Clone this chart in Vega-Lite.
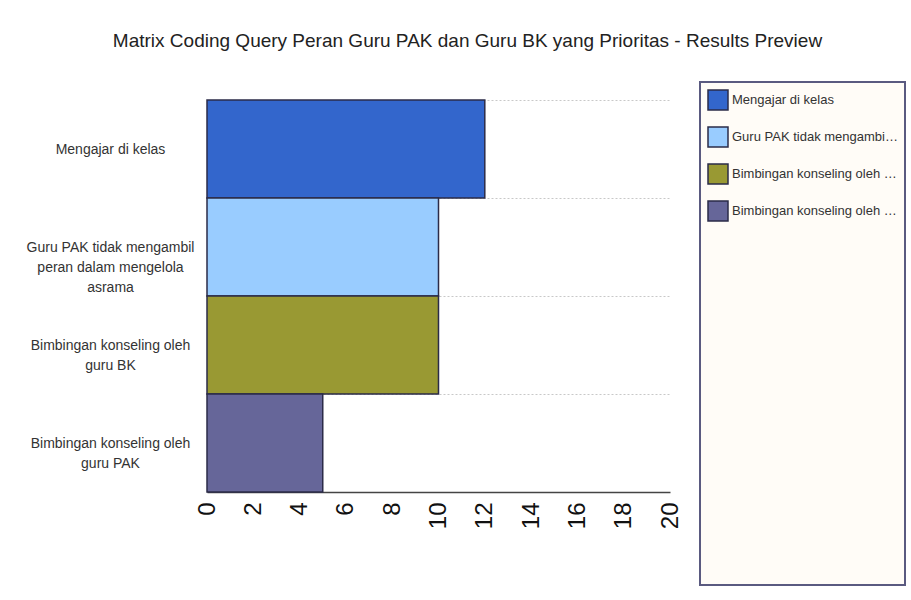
{
  "$schema": "https://vega.github.io/schema/vega-lite/v6.json",
  "autosize": {"type": "none"},
  "padding": {"left": 207, "top": 100, "right": 241, "bottom": 108},
  "width": 463,
  "height": 392,
  "background": "white",
  "title": {
    "text": "Matrix Coding Query Peran Guru PAK dan Guru BK yang Prioritas - Results Preview",
    "font": "Liberation Sans, sans-serif",
    "fontSize": 19,
    "fontWeight": "normal",
    "color": "#222222",
    "anchor": "middle",
    "dx": 29,
    "offset": 30
  },
  "data": {
    "values": [
      {"kategori": "Mengajar di kelas", "nilai": 12},
      {"kategori": "Guru PAK tidak mengambil peran dalam mengelola asrama", "nilai": 10},
      {"kategori": "Bimbingan konseling oleh guru BK", "nilai": 10},
      {"kategori": "Bimbingan konseling oleh guru PAK", "nilai": 5}
    ]
  },
  "mark": {"type": "bar", "stroke": "#2b2b48", "strokeWidth": 1.5},
  "encoding": {
    "y": {
      "field": "kategori",
      "type": "nominal",
      "sort": null,
      "scale": {"paddingInner": 0, "paddingOuter": 0},
      "axis": {
        "title": null,
        "domain": false,
        "ticks": false,
        "tickBand": "extent",
        "grid": true,
        "gridColor": "#c8c8c8",
        "gridDash": [2, 2],
        "gridWidth": 1,
        "labelAlign": "center",
        "labelBaseline": "middle",
        "labelPadding": 97,
        "labelFont": "Liberation Sans, sans-serif",
        "labelFontSize": 14,
        "labelLineHeight": 20,
        "labelColor": "#333333",
        "labelLimit": 250,
        "labelExpr": "datum.label === 'Guru PAK tidak mengambil peran dalam mengelola asrama' ? ['Guru PAK tidak mengambil', 'peran dalam mengelola', 'asrama'] : datum.label === 'Bimbingan konseling oleh guru BK' ? ['Bimbingan konseling oleh', 'guru BK'] : datum.label === 'Bimbingan konseling oleh guru PAK' ? ['Bimbingan konseling oleh', 'guru PAK'] : datum.label"
      }
    },
    "x": {
      "field": "nilai",
      "type": "quantitative",
      "scale": {"domain": [0, 20], "nice": false},
      "axis": {
        "title": null,
        "values": [0, 2, 4, 6, 8, 10, 12, 14, 16, 18, 20],
        "grid": false,
        "ticks": false,
        "domainColor": "#444444",
        "domainWidth": 1.5,
        "labelAngle": -90,
        "labelPadding": 10,
        "labelFont": "Liberation Sans, sans-serif",
        "labelFontSize": 24,
        "labelColor": "#111111"
      }
    },
    "color": {
      "field": "kategori",
      "type": "nominal",
      "sort": null,
      "scale": {
        "domain": ["Mengajar di kelas", "Guru PAK tidak mengambil peran dalam mengelola asrama", "Bimbingan konseling oleh guru BK", "Bimbingan konseling oleh guru PAK"],
        "range": ["#3366CC", "#99CCFF", "#999933", "#666699"]
      },
      "legend": {
        "orient": "none",
        "legendX": 493,
        "legendY": -18,
        "title": " ",
        "titleOrient": "bottom",
        "titlePadding": 348,
        "titleFontSize": 6,
        "padding": 7,
        "symbolType": "square",
        "symbolSize": 400,
        "symbolStrokeColor": "#2b2b48",
        "symbolStrokeWidth": 1.5,
        "symbolOpacity": 1,
        "rowPadding": 11,
        "labelOffset": 3,
        "labelLimit": 168,
        "labelFont": "Liberation Sans, sans-serif",
        "labelFontSize": 13,
        "labelColor": "#333333",
        "fillColor": "#FFFCF7",
        "strokeColor": "#5a5a80"
      }
    }
  },
  "config": {
    "view": {"stroke": null},
    "legend": {"strokeWidth": 2}
  }
}
